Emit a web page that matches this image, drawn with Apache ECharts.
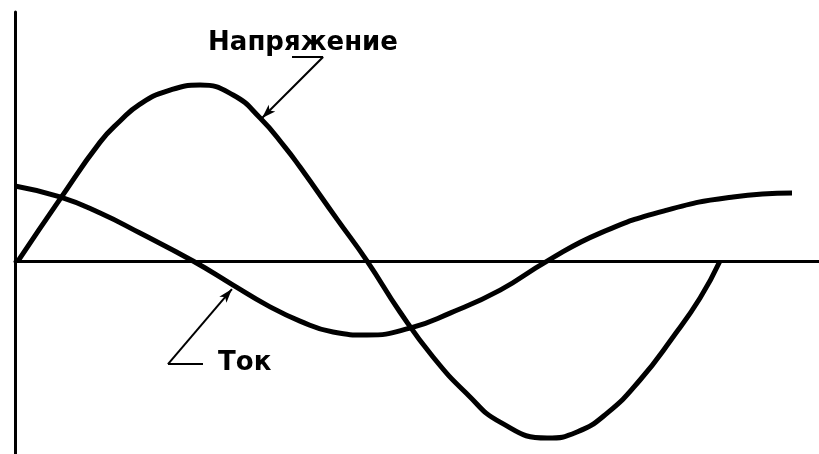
<!DOCTYPE html>
<html>
<head>
<meta charset="utf-8">
<script src="https://cdn.jsdelivr.net/npm/echarts@6/dist/echarts.min.js"></script>
<style>
	html, body { margin: 0; padding: 0; background: #fff; }
	#chart { width: 819px; height: 454px; }
</style>
</head>
<body>
<div id="chart"></div>
<script>
// phase angle in degrees, amplitude relative to voltage peak
var voltagePhase = [1.5, 23, 43.5, 53.7, 63.9, 77.7, 94.6, 111.5, 125.3, 138, 145.7, 164.6, 180, 196.8, 213.7, 231.1, 248, 272, 287.3, 302.7, 319.5, 336.4, 350.2, 360.4];
var voltageValues = [0, 0.35, 0.672, 0.791, 0.887, 0.96, 0.994, 0.938, 0.808, 0.644, 0.531, 0.237, 0, -0.288, -0.542, -0.751, -0.91, -1.0, -0.966, -0.859, -0.672, -0.429, -0.209, 0];
var currentPhase = [0, 23, 43.5, 63.9, 91, 111.5, 128.8, 145.7, 162.6, 180, 201.9, 222.4, 248, 272, 299.1, 333.3, 367.1, 397.2];
var currentValues = [0.424, 0.362, 0.271, 0.158, 0, -0.136, -0.249, -0.339, -0.401, -0.418, -0.379, -0.294, -0.164, 0, 0.158, 0.288, 0.362, 0.384];
var labels = ['Напряжение', 'Ток'];

function pairs(xs, ys) {
	return xs.map(function(x, i) { return [x, ys[i]]; });
}

var chart = echarts.init(document.getElementById('chart'));
var font = '"DejaVu Sans", sans-serif';

chart.setOption({
	animation: false,
	backgroundColor: '#fff',
	grid: { left: 15, right: 0, top: 12, bottom: 0 },
	xAxis: {
		type: 'value',
		min: 0,
		max: 411,
		axisLine: { show: true, onZero: true, lineStyle: { color: '#000', width: 3 } },
		axisTick: { show: false },
		axisLabel: { show: false },
		splitLine: { show: false }
	},
	yAxis: {
		type: 'value',
		min: -1.09,
		max: 1.407,
		axisLine: { show: true, onZero: false, lineStyle: { color: '#000', width: 3 } },
		axisTick: { show: false },
		axisLabel: { show: false },
		splitLine: { show: false }
	},
	series: [{
		name: labels[0],
		type: 'line',
		smooth: 0.5,
		showSymbol: false,
		data: pairs(voltagePhase, voltageValues),
		lineStyle: { color: '#000', width: 5 },
		markLine: {
			silent: true,
			symbol: ['none', 'none'],
			lineStyle: { color: '#000', width: 2, type: 'solid' },
			label: { show: false },
			data: [
				[{ coord: [141.6, 1.153] }, { coord: [157.5, 1.153] }],
				[{ coord: [157.5, 1.153] }, { coord: [126.3, 0.808], symbol: 'arrow', symbolSize: [7, 14] }]
			]
		},
		markPoint: {
			silent: true,
			symbolSize: 0,
			label: {
				show: true, position: 'inside', align: 'left', verticalAlign: 'middle',
				color: '#000', fontFamily: font, fontWeight: 'bold', fontSize: 26,
				formatter: labels[0]
			},
			data: [{ coord: [98.7, 1.232] }]
		}
	}, {
		name: labels[1],
		type: 'line',
		smooth: 0.5,
		showSymbol: false,
		data: pairs(currentPhase, currentValues),
		lineStyle: { color: '#000', width: 5 },
		markLine: {
			silent: true,
			symbol: ['none', 'none'],
			lineStyle: { color: '#000', width: 2, type: 'solid' },
			label: { show: false },
			data: [
				[{ coord: [96.1, -0.582] }, { coord: [78.2, -0.582] }],
				[{ coord: [78.2, -0.582] }, { coord: [110.9, -0.158], symbol: 'arrow', symbolSize: [7, 14] }]
			]
		},
		markPoint: {
			silent: true,
			symbolSize: 0,
			label: {
				show: true, position: 'inside', align: 'left', verticalAlign: 'middle',
				color: '#000', fontFamily: font, fontWeight: 'bold', fontSize: 26,
				formatter: labels[1]
			},
			data: [{ coord: [103.8, -0.576] }]
		}
	}]
});
</script>
</body>
</html>
